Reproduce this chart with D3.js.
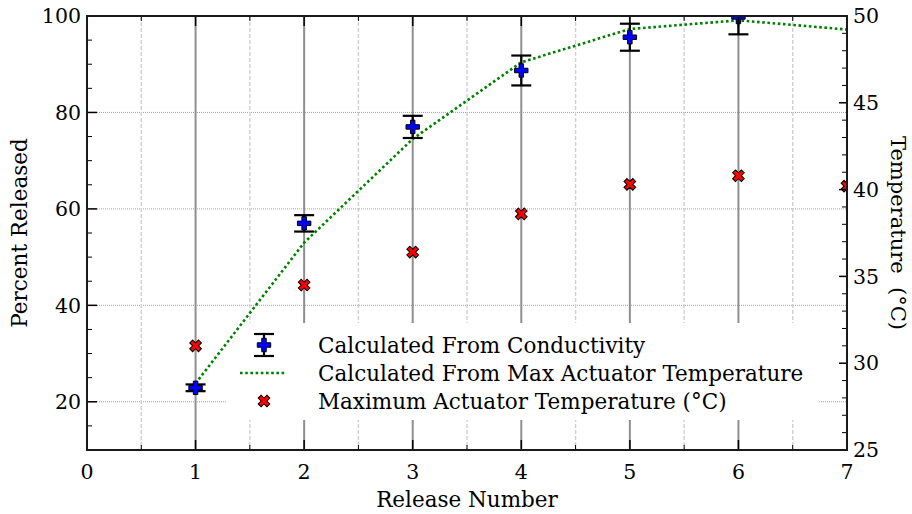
<!DOCTYPE html>
<html>
<head>
<meta charset="utf-8">
<script src="https://cdn.jsdelivr.net/npm/d3@7"></script>
<style>
  body { margin: 0; background: #fff; }
  svg text { font-family: "DejaVu Serif", serif; }
</style>
</head>
<body>
<svg></svg>
<script>
const width = 912;
const height = 514;
const margin = { top: 16, right: 65, bottom: 64, left: 87 };

// data
const releases = [1, 2, 3, 4, 5, 6, 7];
const conductivity = [22.9, 57.0, 77.0, 88.7, 95.6, 99.8];
const conductivityErr = [0.7, 1.7, 2.3, 3.1, 2.8, 3.6];
const fromTemperature = [23.8, 53.0, 74.5, 90.4, 97.3, 99.1, 97.2];
const maxTemperature = [31.0, 34.5, 36.4, 38.6, 40.3, 40.8, 40.2];

const xTicks = [0, 1, 2, 3, 4, 5, 6, 7];
const yLeftTicks = [20, 40, 60, 80, 100];
const yRightTicks = [25, 30, 35, 40, 45, 50];

const legendLabels = [
  'Calculated From Conductivity',
  'Calculated From Max Actuator Temperature',
  'Maximum Actuator Temperature (\u00B0C)'
];

const x0 = margin.left, x1 = width - margin.right;
const y0 = height - margin.bottom, y1 = margin.top;

let xScale = d3.scaleLinear().domain([0, 7]).range([x0, x1]);
let yLeft = d3.scaleLinear().domain([10, 100]).range([y0, y1]);
let yRight = d3.scaleLinear().domain([25, 50]).range([y0, y1]);

let svg = d3.select('svg')
            .attr('width', width)
            .attr('height', height);

svg.append('defs').append('clipPath')
  .attr('id', 'plot-clip')
  .append('rect')
    .attr('x', x0).attr('y', y1)
    .attr('width', x1 - x0).attr('height', y0 - y1);

let grid = svg.append('g');

// horizontal dotted grid on left-axis ticks
grid.selectAll('line.hgrid')
  .data(yLeftTicks)
  .enter()
  .append('line')
    .attr('x1', x0).attr('x2', x1)
    .attr('y1', d => yLeft(d)).attr('y2', d => yLeft(d))
    .attr('stroke', '#8c8c8c')
    .attr('stroke-width', 0.8)
    .attr('stroke-dasharray', '1,1');

// minor vertical dashed grid
grid.selectAll('line.vminor')
  .data(d3.range(0.5, 7, 1))
  .enter()
  .append('line')
    .attr('x1', d => xScale(d)).attr('x2', d => xScale(d))
    .attr('y1', y1).attr('y2', y0)
    .attr('stroke', '#d0d0d0')
    .attr('stroke-width', 1.4)
    .attr('stroke-dasharray', '4,2');

// major vertical grid
grid.selectAll('line.vmajor')
  .data(xTicks.slice(1, 7))
  .enter()
  .append('line')
    .attr('x1', d => xScale(d)).attr('x2', d => xScale(d))
    .attr('y1', y1).attr('y2', y0)
    .attr('stroke', '#8f8f8f')
    .attr('stroke-width', 2);

// legend background sits over the grid, under the data
svg.append('rect')
  .attr('x', 227).attr('y', 323)
  .attr('width', 592).attr('height', 97)
  .attr('fill', '#fff');

let plot = svg.append('g').attr('clip-path', 'url(#plot-clip)');

// green dotted line
let line = d3.line()
  .x((d, i) => xScale(releases[i]))
  .y(d => yLeft(d));

plot.append('path')
  .datum(fromTemperature)
  .attr('d', line)
  .attr('fill', 'none')
  .attr('stroke', '#008000')
  .attr('stroke-width', 2.6)
  .attr('stroke-dasharray', '2.6,2.6');

// error bars
const capHalf = 10;
let bars = plot.selectAll('g.err')
  .data(conductivity)
  .enter()
  .append('g')
    .attr('stroke', '#000')
    .attr('stroke-width', 2.2);

bars.append('line')
  .attr('x1', (d, i) => xScale(releases[i])).attr('x2', (d, i) => xScale(releases[i]))
  .attr('y1', (d, i) => yLeft(d - conductivityErr[i]))
  .attr('y2', (d, i) => yLeft(d + conductivityErr[i]));

bars.append('line')
  .attr('x1', (d, i) => xScale(releases[i]) - capHalf).attr('x2', (d, i) => xScale(releases[i]) + capHalf)
  .attr('y1', (d, i) => yLeft(d - conductivityErr[i]))
  .attr('y2', (d, i) => yLeft(d - conductivityErr[i]));

bars.append('line')
  .attr('x1', (d, i) => xScale(releases[i]) - capHalf).attr('x2', (d, i) => xScale(releases[i]) + capHalf)
  .attr('y1', (d, i) => yLeft(d + conductivityErr[i]))
  .attr('y2', (d, i) => yLeft(d + conductivityErr[i]));

const plusPath = d3.symbol().type(d3.symbolCross).size(100)();

plot.selectAll('path.plus')
  .data(conductivity)
  .enter()
  .append('path')
    .attr('d', plusPath)
    .attr('transform', (d, i) => 'translate(' + xScale(releases[i]) + ',' + yLeft(d) + ')')
    .attr('fill', '#0000ff')
    .attr('stroke', '#000')
    .attr('stroke-width', 1);

const crossPath = d3.symbol().type(d3.symbolCross).size(85)();

plot.selectAll('path.xmark')
  .data(maxTemperature)
  .enter()
  .append('path')
    .attr('d', crossPath)
    .attr('transform', (d, i) => 'translate(' + xScale(releases[i]) + ',' + yRight(d) + ') rotate(45)')
    .attr('fill', '#ff0000')
    .attr('stroke', '#000')
    .attr('stroke-width', 1);

// legend keys and labels
let legend = svg.append('g');

const rowY = [345, 373, 401];
const keyX = 264;

legend.append('line')
  .attr('x1', keyX).attr('x2', keyX)
  .attr('y1', rowY[0] - 11).attr('y2', rowY[0] + 11)
  .attr('stroke', '#000').attr('stroke-width', 2.2);
[-11, 11].forEach(dy => {
  legend.append('line')
    .attr('x1', keyX - capHalf).attr('x2', keyX + capHalf)
    .attr('y1', rowY[0] + dy).attr('y2', rowY[0] + dy)
    .attr('stroke', '#000').attr('stroke-width', 2.2);
});
legend.append('path')
  .attr('d', plusPath)
  .attr('transform', 'translate(' + keyX + ',' + rowY[0] + ')')
  .attr('fill', '#0000ff').attr('stroke', '#000');

legend.append('line')
  .attr('x1', 240).attr('x2', 286)
  .attr('y1', rowY[1]).attr('y2', rowY[1])
  .attr('stroke', '#008000')
  .attr('stroke-width', 2.6)
  .attr('stroke-dasharray', '2.6,2.6');

legend.append('path')
  .attr('d', crossPath)
  .attr('transform', 'translate(' + keyX + ',' + rowY[2] + ') rotate(45)')
  .attr('fill', '#ff0000').attr('stroke', '#000');

legend.selectAll('text')
  .data(legendLabels)
  .enter()
  .append('text')
    .attr('x', 318)
    .attr('y', (d, i) => rowY[i])
    .attr('dy', '0.35em')
    .style('font-size', '21.5px')
    .text(d => d);

// axes
let axes = svg.append('g').attr('stroke', '#000');

function tickLines(values, fn, width) {
  values.forEach(v => {
    let c = fn(v);
    axes.append('line')
      .attr('x1', c[0]).attr('y1', c[1]).attr('x2', c[2]).attr('y2', c[3])
      .attr('stroke-width', width);
  });
}

// x ticks, bottom and top, pointing in
tickLines(xTicks, v => [xScale(v), y0, xScale(v), y0 - 10], 1.5);
tickLines(xTicks, v => [xScale(v), y1, xScale(v), y1 + 10], 1.5);
tickLines(d3.range(0.5, 7, 1), v => [xScale(v), y0, xScale(v), y0 - 5], 1);
tickLines(d3.range(0.5, 7, 1), v => [xScale(v), y1, xScale(v), y1 + 5], 1);

// left ticks
tickLines(yLeftTicks, v => [x0, yLeft(v), x0 + 10, yLeft(v)], 1.5);
tickLines(d3.range(15, 100, 5).filter(v => v % 20 !== 0), v => [x0, yLeft(v), x0 + 5, yLeft(v)], 1);

// right ticks
tickLines(yRightTicks, v => [x1, yRight(v), x1 - 8, yRight(v)], 1.5);
tickLines(d3.range(26, 50, 1).filter(v => v % 5 !== 0), v => [x1, yRight(v), x1 - 5, yRight(v)], 1);

// frame
axes.append('rect')
  .attr('x', x0).attr('y', y1)
  .attr('width', x1 - x0).attr('height', y0 - y1)
  .attr('fill', 'none')
  .attr('stroke', '#1a1a1a')
  .attr('stroke-width', 2);

// tick labels
svg.selectAll('text.xl')
  .data(xTicks)
  .enter()
  .append('text')
    .attr('x', d => xScale(d))
    .attr('y', y0 + 29)
    .style('text-anchor', 'middle')
    .style('font-size', '20.5px')
    .text(d => d);

svg.selectAll('text.yl')
  .data(yLeftTicks)
  .enter()
  .append('text')
    .attr('x', x0 - 6)
    .attr('y', d => yLeft(d))
    .attr('dy', '0.35em')
    .style('text-anchor', 'end')
    .style('font-size', '20.5px')
    .text(d => d);

svg.selectAll('text.yr')
  .data(yRightTicks)
  .enter()
  .append('text')
    .attr('x', x1 + 6)
    .attr('y', d => yRight(d))
    .attr('dy', '0.35em')
    .style('font-size', '20.5px')
    .text(d => d);

// axis titles
svg.append('text')
  .text('Release Number')
  .style('text-anchor', 'middle')
  .style('font-size', '21.5px')
  .attr('x', (x0 + x1) / 2)
  .attr('y', height - 7);

svg.append('text')
  .text('Percent Released')
  .style('text-anchor', 'middle')
  .style('font-size', '21.5px')
  .attr('x', - (y0 + y1) / 2)
  .attr('y', 27)
  .attr('transform', 'rotate(-90)');

svg.append('text')
  .text('Temperature  (\u00B0C)')
  .style('text-anchor', 'middle')
  .style('font-size', '21px')
  .style('white-space', 'pre')
  .attr('x', (y0 + y1) / 2)
  .attr('y', -891)
  .attr('transform', 'rotate(90)');
</script>
</body>
</html>
